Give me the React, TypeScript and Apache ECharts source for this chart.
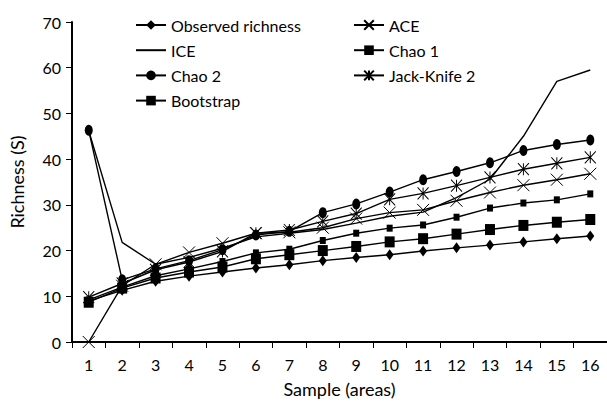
import React, { useEffect, useRef } from "react";
import * as echarts from "echarts";

const samples = ["1", "2", "3", "4", "5", "6", "7", "8", "9", "10", "11", "12", "13", "14", "15", "16"];
const observed = [9.0, 11.3, 13.3, 14.4, 15.3, 16.2, 16.9, 17.8, 18.5, 19.1, 19.9, 20.6, 21.2, 21.9, 22.6, 23.2];
const ace = [0, 12.3, 17.0, 19.6, 21.6, 23.8, 24.0, 25.0, 27.0, 28.3, 28.9, 30.9, 32.7, 34.3, 35.5, 36.8];
const ice = [46.2, 21.8, 17.0, 18.5, 20.5, 23.0, 23.8, 24.6, 26.0, 27.5, 28.4, 31.6, 35.6, 45.0, 57.0, 59.5];
const chao1 = [9.2, 12.0, 14.5, 16.0, 17.6, 19.5, 20.3, 22.2, 23.8, 24.9, 25.6, 27.3, 29.3, 30.4, 31.1, 32.4];
const chao2 = [46.3, 13.6, 16.0, 17.8, 20.2, 23.4, 24.2, 28.3, 30.2, 32.8, 35.5, 37.3, 39.2, 41.9, 43.2, 44.2];
const jk2 = [9.8, 12.8, 15.8, 17.5, 19.8, 23.8, 24.5, 26.4, 28.1, 31.2, 32.5, 34.2, 36.0, 37.8, 39.1, 40.4];
const bootstrap = [8.7, 11.8, 14.0, 15.3, 16.4, 18.2, 19.1, 20.0, 20.9, 21.9, 22.6, 23.6, 24.6, 25.5, 26.2, 26.8];

const FONT = "Lato";
const XSYM = "path://M0,0L10,10M10,0L0,10";
const ASTSYM = "path://M0,0L10,10M10,0L0,10M5,0L5,10";

function mk(name: string, data: number[], symbol: string, size: any, stroke = false, hidden = false) {
  return {
    name,
    type: "line",
    data,
    symbol,
    symbolSize: size,
    showSymbol: !hidden,
    lineStyle: { color: "#000", width: 1.4 },
    itemStyle: hidden
      ? { color: "rgba(0,0,0,0)", borderWidth: 0 }
      : stroke
      ? { color: "#000", borderColor: "#000", borderWidth: 1 }
      : { color: "#000", borderWidth: 0 },
    emphasis: { disabled: true },
  };
}

export default function App() {
  const ref = useRef<HTMLDivElement>(null);
  useEffect(() => {
    if (!ref.current) return;
    const chart = echarts.init(ref.current, undefined, { renderer: "svg" });
    const legendText = { fontFamily: FONT, fontSize: 16, color: "#000" };
    const legendBase = {
      orient: "vertical",
      top: 17,
      padding: 0,
      itemWidth: 30,
      itemHeight: 12,
      itemGap: 9.2,
      textStyle: legendText,
      selectedMode: false,
    };
    chart.setOption({
      animation: false,
      backgroundColor: "#fff",
      textStyle: { fontFamily: FONT },
      grid: { left: 72, right: 0, top: 22, bottom: 59 },
      legend: [
        { ...legendBase, left: 135, data: ["Observed richness", "ICE", "Chao 2", "Bootstrap"] },
        { ...legendBase, left: 353, data: ["ACE", "Chao 1", "Jack-Knife 2"] },
      ],
      xAxis: {
        type: "category",
        data: samples,
        boundaryGap: true,
        name: "Sample (areas)",
        nameLocation: "middle",
        nameGap: 38,
        nameTextStyle: { fontFamily: FONT, fontSize: 18, color: "#000" },
        axisLine: { lineStyle: { color: "#000", width: 2 } },
        axisTick: { show: true, length: 6, lineStyle: { color: "#000", width: 1 } },
        axisLabel: { fontFamily: FONT, fontSize: 16, color: "#000", margin: 14 },
        splitLine: { show: false },
      },
      yAxis: {
        type: "value",
        min: 0,
        max: 70,
        interval: 10,
        name: "Richness (S)",
        nameLocation: "middle",
        nameGap: 46,
        nameTextStyle: { fontFamily: FONT, fontSize: 18, color: "#000" },
        axisLine: { show: true, lineStyle: { color: "#000", width: 2 } },
        axisTick: { show: true, length: 6, lineStyle: { color: "#000", width: 1 } },
        axisLabel: { fontFamily: FONT, fontSize: 16, color: "#000", margin: 11 },
        splitLine: { show: false },
      },
      series: [
        mk("Observed richness", observed, "diamond", [8, 11]),
        mk("ACE", ace, XSYM, [12, 12], true),
        mk("ICE", ice, "circle", 1, false, true),
        mk("Chao 1", chao1, "rect", [6, 7]),
        mk("Chao 2", chao2, "circle", [8, 11]),
        mk("Jack-Knife 2", jk2, ASTSYM, [11, 12], true),
        mk("Bootstrap", bootstrap, "rect", [10, 11]),
      ],
    });
    return () => chart.dispose();
  }, []);
  return <div ref={ref} style={{ width: 607, height: 403, position: "absolute", left: 0, top: 0 }} />;
}
